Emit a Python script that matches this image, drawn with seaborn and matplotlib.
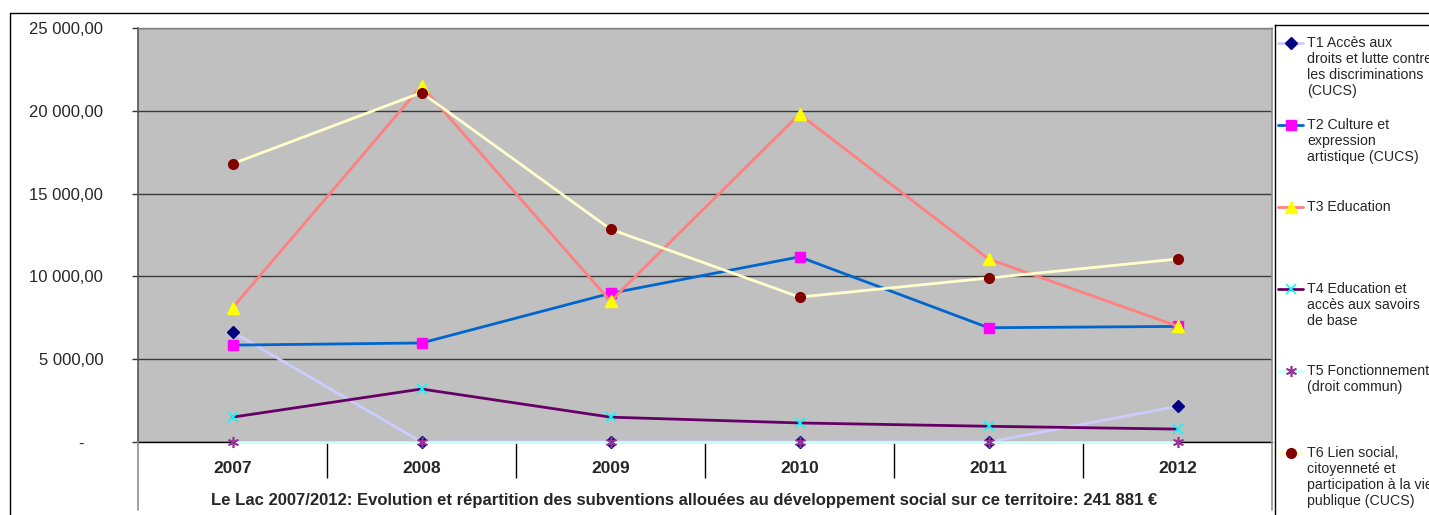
import numpy as np
import pandas as pd
import matplotlib
matplotlib.use("Agg")
import matplotlib.pyplot as plt
from matplotlib.lines import Line2D
import seaborn as sns

# ---------------- data ----------------
years = [2007, 2008, 2009, 2010, 2011, 2012]
t1 = [6650, 0, 0, 0, 0, 2150]
t2 = [5850, 5980, 8980, 11180, 6900, 6980]
t3 = [8100, 21500, 8500, 19800, 11050, 7000]
t4 = [1500, 3200, 1500, 1150, 950, 780]
t5 = [0, 0, 0, 0, 0, 0]
t6 = [16800, 21100, 12850, 8750, 9900, 11050]

labels = [
    "T1 Accès aux\ndroits et lutte contre\nles discriminations\n(CUCS)",
    "T2 Culture et\nexpression\nartistique (CUCS)",
    "T3 Education",
    "T4 Education et\naccès aux savoirs\nde base",
    "T5 Fonctionnement\n(droit commun)",
    "T6 Lien social,\ncitoyenneté et\nparticipation à la vie\npublique (CUCS)",
]
yticks = [0, 5000, 10000, 15000, 20000, 25000]
ytick_labels = ["-    ", "5 000,00", "10 000,00", "15 000,00", "20 000,00", "25 000,00"]
title = ("Le Lac 2007/2012: Evolution et répartition des subventions allouées "
         "au développement social sur ce territoire: 241 881 €")

series = [t1, t2, t3, t4, t5, t6]
styles = [
    dict(color="#CCCCFF", marker="D", markerfacecolor="#000080", markeredgecolor="#000080", markersize=6, markeredgewidth=1),
    dict(color="#0066CC", marker="s", markerfacecolor="#FF00FF", markeredgecolor="#FF00FF", markersize=7, markeredgewidth=1),
    dict(color="#FF8080", marker="^", markerfacecolor="#FFFF00", markeredgecolor="#FFFF00", markersize=8, markeredgewidth=1),
    dict(color="#660066", marker="x", markerfacecolor="#00FFFF", markeredgecolor="#00FFFF", markersize=7, markeredgewidth=1.2),
    dict(color="#CCFFFF", marker=(6, 2, 0), markerfacecolor="#800080", markeredgecolor="#993399", markersize=8, markeredgewidth=1.2),
    dict(color="#FFFFCC", marker="o", markerfacecolor="#800000", markeredgecolor="#800000", markersize=7, markeredgewidth=1),
]

# ---------------- figure ----------------
sns.set_style("white")
plt.rcParams["font.family"] = ["Liberation Sans", "DejaVu Sans"]

W, H = 1429, 515
fig = plt.figure(figsize=(W / 100, H / 100), dpi=100)
fig.patch.set_facecolor("white")


def fx(x):
    return x / W


def fy(y):
    return 1 - y / H


ax = fig.add_axes([fx(138), fy(442), fx(1272) - fx(138), fy(28) - fy(442)])
ax.set_facecolor("#C0C0C0")

for vals, st in zip(series, styles):
    df = pd.DataFrame({"year": years, "value": vals})
    sns.lineplot(data=df, x="year", y="value", ax=ax, linewidth=2,
                 clip_on=False, zorder=3, **st)

ax.set_xlim(2006.5, 2012.5)
ax.set_ylim(0, 25000)
ax.set_xlabel("")
ax.set_ylabel("")

# y axis
ax.set_yticks(yticks)
ax.set_yticklabels(ytick_labels)
ax.tick_params(axis="y", which="major", length=4, width=1, color="#333333",
               direction="out", pad=21, labelsize=12, left=True)
ax.yaxis.grid(True, color="#3a3a3a", linewidth=1)
ax.xaxis.grid(False)
ax.set_axisbelow(True)

# x axis: boundary ticks (major) + year labels (minor)
ax.set_xticks([y + 0.5 for y in years[:-1]])
ax.set_xticklabels([])
ax.set_xticks(years, minor=True)
ax.set_xticklabels([str(y) for y in years], minor=True, fontweight="bold", fontsize=12.5)
ax.tick_params(axis="x", which="major", length=26, width=1, color="black",
               direction="out", bottom=True)
ax.tick_params(axis="x", which="minor", length=0, pad=13.5, bottom=True)

for side in ["top", "right"]:
    ax.spines[side].set_visible(False)
ax.spines["left"].set_color("#555555")
ax.spines["left"].set_linewidth(1.2)
ax.spines["bottom"].set_color("black")
ax.spines["bottom"].set_linewidth(1)

# plot-area frame extending below axis
fig.add_artist(Line2D([fx(138), fx(138)], [fy(442), fy(510)], transform=fig.transFigure,
                      color="#909090", lw=1.2))
fig.add_artist(Line2D([fx(1272), fx(1272)], [fy(28), fy(510)], transform=fig.transFigure,
                      color="#909090", lw=1.2))
fig.add_artist(Line2D([fx(138), fx(1272)], [fy(28), fy(28)], transform=fig.transFigure,
                      color="#808080", lw=1))

# outer chart border
fig.add_artist(Line2D([fx(10), 1], [fy(13), fy(13)], transform=fig.transFigure,
                      color="black", lw=1))
fig.add_artist(Line2D([fx(10), fx(10)], [fy(13), 0], transform=fig.transFigure,
                      color="black", lw=1))

# bottom title
fig.text(fx(684), fy(501), title, ha="center", va="center", fontsize=12,
         fontweight="bold")

# ---------------- legend ----------------
lax = fig.add_axes([fx(1275), 0, 1 - fx(1275), fy(25)])
lax.set_xlim(1275, W)
lax.set_ylim(515, 25)
lax.set_facecolor("white")
lax.set_xticks([])
lax.set_yticks([])
for side in ["right", "bottom"]:
    lax.spines[side].set_visible(False)
for side in ["left", "top"]:
    lax.spines[side].set_color("black")
    lax.spines[side].set_linewidth(1)

for i, (lab, st) in enumerate(zip(labels, styles)):
    yc = 43 + i * 82
    lax.add_line(Line2D([1278, 1303], [yc, yc], color=st["color"], lw=2, clip_on=False))
    lax.add_line(Line2D([1291], [yc], color=st["color"], lw=0, marker=st["marker"],
                        markerfacecolor=st["markerfacecolor"],
                        markeredgecolor=st["markeredgecolor"],
                        markersize=st["markersize"],
                        markeredgewidth=st["markeredgewidth"], clip_on=False))
    lax.text(1307, yc - 7, lab, ha="left", va="top", fontsize=10.2, linespacing=1.17,
             clip_on=False)

fig.savefig("out.png", dpi=100, facecolor="white")
